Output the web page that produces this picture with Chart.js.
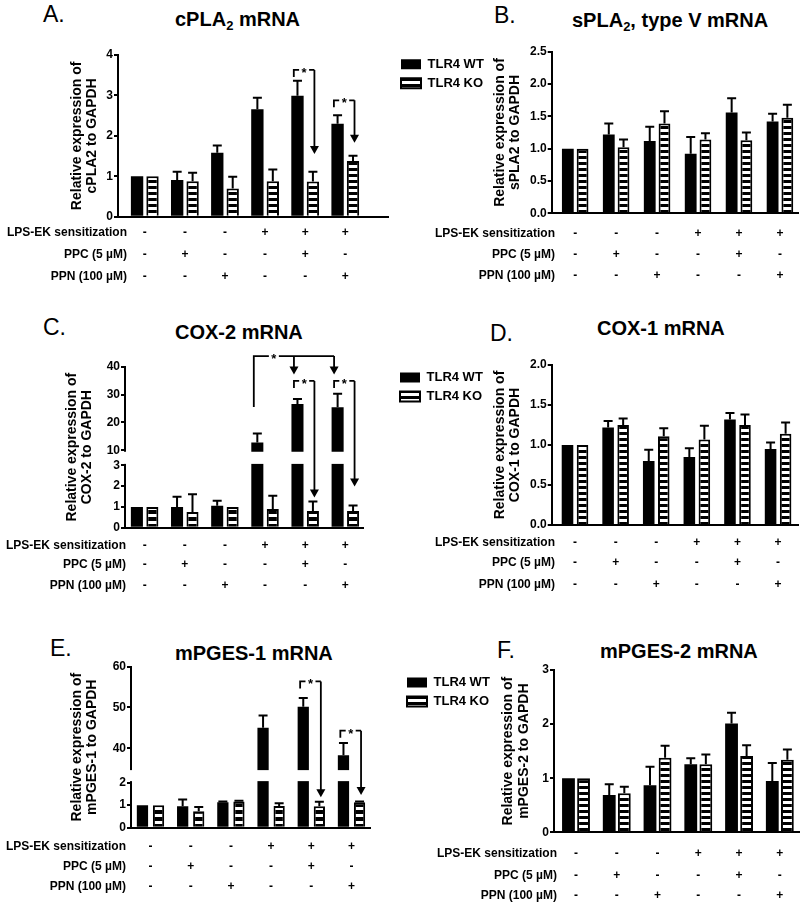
<!DOCTYPE html>
<html>
<head>
<meta charset="utf-8">
<script src="https://cdn.jsdelivr.net/npm/chart.js@4.4.1/dist/chart.umd.min.js"></script>
<style>
  html, body { margin: 0; padding: 0; background: #fff; }
  body { position: relative; width: 800px; height: 902px; overflow: hidden; font-family: "Liberation Sans", Arial, sans-serif; color: #000; }
  canvas { position: absolute; }
  .letter { position: absolute; font-size: 23px; line-height: 23px; white-space: nowrap; }
  .title { position: absolute; font-size: 20px; font-weight: bold; line-height: 20px; white-space: nowrap; }
  .title sub { font-size: 13px; line-height: 0; vertical-align: -4px; }
</style>
</head>
<body>
<div class="letter" style="left:43px;top:3px">A.</div>
<div class="title" style="left:175px;top:9px">cPLA<sub>2</sub> mRNA</div>
<div class="letter" style="left:494px;top:4px">B.</div>
<div class="title" style="left:572px;top:10px">sPLA<sub>2</sub>, type V mRNA</div>
<div class="letter" style="left:43px;top:316px">C.</div>
<div class="title" style="left:175px;top:322px">COX-2 mRNA</div>
<div class="letter" style="left:490px;top:322px">D.</div>
<div class="title" style="left:597px;top:318px">COX-1 mRNA</div>
<div class="letter" style="left:50px;top:637px">E.</div>
<div class="title" style="left:175px;top:643px">mPGES-1 mRNA</div>
<div class="letter" style="left:497px;top:639px">F.</div>
<div class="title" style="left:600px;top:641px">mPGES-2 mRNA</div>

<canvas id="chartA" width="400" height="300" style="left:0px;top:0px"></canvas>
<canvas id="chartB" width="405" height="300" style="left:395px;top:0px"></canvas>
<canvas id="chartC" width="400" height="300" style="left:0px;top:300px"></canvas>
<canvas id="chartD" width="406" height="300" style="left:394px;top:300px"></canvas>
<canvas id="chartE" width="400" height="302" style="left:0px;top:600px"></canvas>
<canvas id="chartF" width="399" height="302" style="left:401px;top:600px"></canvas>

<script>
var seriesNames = ['TLR4 WT', 'TLR4 KO'];
var groups = [0, 1, 2, 3, 4, 5];
var conditionLabels = ['LPS-EK sensitization', 'PPC (5 µM)', 'PPN (100 µM)'];
var lpsSigns = ['-', '-', '-', '+', '+', '+'];
var ppcSigns = ['-', '+', '-', '-', '+', '-'];
var ppnSigns = ['-', '-', '+', '-', '-', '+'];

// A. cPLA2
var cpla2Wt = [1.0, 0.91, 1.58, 2.66, 2.99, 2.30];
var cpla2WtErr = [0, 0.20, 0.18, 0.28, 0.37, 0.21];
var cpla2Ko = [1.0, 0.88, 0.70, 0.88, 0.87, 1.38];
var cpla2KoErr = [0, 0.21, 0.29, 0.29, 0.24, 0.13];
var cpla2Ticks = [0, 1, 2, 3, 4];
var cpla2Sig = [
  { group: 4, y: 3.63, arrows: [[4, 1, 1.55]] },
  { group: 5, y: 2.88, arrows: [[5, 1, 1.83]] }
];

// B. sPLA2 type V
var spla2Wt = [1.0, 1.22, 1.12, 0.92, 1.56, 1.42];
var spla2WtErr = [0, 0.17, 0.22, 0.26, 0.22, 0.12];
var spla2Ko = [1.0, 1.02, 1.39, 1.14, 1.13, 1.48];
var spla2KoErr = [0, 0.12, 0.19, 0.10, 0.12, 0.20];
var spla2Ticks = [0, 0.5, 1, 1.5, 2, 2.5];

// C. COX-2 (broken axis)
var cox2Wt = [1.0, 1.0, 1.06, 12.8, 26.6, 25.4];
var cox2WtErr = [0, 0.49, 0.24, 3.2, 1.8, 4.9];
var cox2Ko = [1.0, 0.75, 1.0, 0.9, 0.8, 0.8];
var cox2KoErr = [0, 0.86, 0, 0.64, 0.46, 0.27];
var cox2Ticks = [0, 1, 2, 3, 10, 20, 30, 40];
var cox2Sig = [
  { group: 3, y: 43.8, drop: 25.5, arrows: [[4, 0, 37.2], [5, 0, 37.2]] },
  { group: 4, y: 34.9, arrows: [[4, 1, 1.45]] },
  { group: 5, y: 34.9, arrows: [[5, 1, 1.98]] }
];

// D. COX-1
var cox1Wt = [1.0, 1.22, 0.80, 0.85, 1.32, 0.95];
var cox1WtErr = [0, 0.08, 0.14, 0.11, 0.08, 0.08];
var cox1Ko = [1.0, 1.25, 1.11, 1.07, 1.25, 1.14];
var cox1KoErr = [0, 0.08, 0.10, 0.17, 0.13, 0.14];
var cox1Ticks = [0, 0.5, 1, 1.5, 2];

// E. mPGES-1 (broken axis)
var mpges1Wt = [1.0, 0.95, 1.13, 45.0, 50.2, 38.3];
var mpges1WtErr = [0, 0.3, 0.03, 3.0, 2.1, 3.0];
var mpges1Ko = [1.0, 0.73, 1.16, 0.96, 0.95, 1.13];
var mpges1KoErr = [0, 0.19, 0.04, 0.12, 0.2, 0.03];
var mpges1Ticks = [0, 1, 2, 40, 50, 60];
var mpges1Sig = [
  { group: 4, y: 56.4, arrows: [[4, 1, 1.35]] },
  { group: 5, y: 44.3, arrows: [[5, 1, 1.45]] }
];

// F. mPGES-2
var mpges2Wt = [1.0, 0.69, 0.87, 1.26, 2.01, 0.95];
var mpges2WtErr = [0, 0.2, 0.34, 0.11, 0.2, 0.33];
var mpges2Ko = [1.0, 0.72, 1.38, 1.26, 1.41, 1.34];
var mpges2KoErr = [0, 0.12, 0.22, 0.18, 0.2, 0.19];
var mpges2Ticks = [0, 1, 2, 3];

var FONT = '"Liberation Sans", Arial, sans-serif';
Chart.defaults.font.family = FONT;
Chart.defaults.color = '#000';

// y scale with a gap between two linear segments
class BrokenScale extends Chart.LinearScale {
  getPixelForValue(value) {
    var b = this.options.brk;
    var h = this.bottom - this.top;
    var lowH = h * b.lowShare, gapH = h * b.gapShare, upH = h - lowH - gapH;
    if (value <= b.low) return this.bottom - (value - this.min) / (b.low - this.min) * lowH;
    if (value < b.high) return this.bottom - lowH - (value - b.low) / (b.high - b.low) * gapH;
    return this.bottom - lowH - gapH - (value - b.high) / (this.max - b.high) * upH;
  }
  getValueForPixel(pixel) {
    var b = this.options.brk;
    var h = this.bottom - this.top;
    var lowH = h * b.lowShare, gapH = h * b.gapShare, upH = h - lowH - gapH;
    var d = this.bottom - pixel;
    if (d <= lowH) return this.min + d / lowH * (b.low - this.min);
    if (d < lowH + gapH) return b.low + (d - lowH) / gapH * (b.high - b.low);
    return b.high + (d - lowH - gapH) / upH * (this.max - b.high);
  }
}
BrokenScale.id = 'broken';
BrokenScale.defaults = {};
Chart.register(BrokenScale);

function stripes(period) {
  var c = document.createElement('canvas');
  c.width = 4;
  c.height = period;
  var g = c.getContext('2d');
  g.fillStyle = '#fff';
  g.fillRect(0, 0, 4, period);
  g.fillStyle = '#000';
  g.fillRect(0, 0, 4, Math.round(period / 2));
  return g.createPattern(c, 'repeat');
}

function anchorX(chart, group, ds) {
  var bar = chart.getDatasetMeta(ds).data[group];
  return ds === 0 ? bar.x - bar.width / 2 + 2.5 : bar.x + 1.5;
}

// error bars, axis break, significance brackets and the treatment table
function makeExtras(errors, sig, layout) {
  return {
    id: 'panelExtras',
    afterDatasetsDraw: function(chart) {
      var ctx = chart.ctx;
      var area = chart.chartArea;
      var y = chart.scales.y;
      var x = chart.scales.x;
      ctx.save();

      if (layout.brk) {
        var yHi = y.getPixelForValue(layout.brk.high);
        var yLo = y.getPixelForValue(layout.brk.low);
        ctx.fillStyle = '#fff';
        ctx.fillRect(area.left - 3, yHi + 1.5, area.right - area.left + 3, yLo - yHi - 3);
      }

      ctx.strokeStyle = '#000';
      ctx.fillStyle = '#000';
      ctx.lineWidth = 2;
      errors.forEach(function(errs, d) {
        var meta = chart.getDatasetMeta(d);
        var vals = chart.data.datasets[d].data;
        meta.data.forEach(function(bar, i) {
          if (!errs[i]) return;
          var top = y.getPixelForValue(vals[i].y + errs[i]);
          ctx.beginPath();
          ctx.moveTo(bar.x, bar.y);
          ctx.lineTo(bar.x, top);
          ctx.moveTo(bar.x - 4.5, top);
          ctx.lineTo(bar.x + 4.5, top);
          ctx.stroke();
        });
      });

      ctx.lineWidth = 1.8;
      ctx.font = 'bold 13px ' + FONT;
      ctx.textAlign = 'center';
      ctx.textBaseline = 'alphabetic';
      (sig || []).forEach(function(b) {
        var x0 = anchorX(chart, b.group, 0);
        var yl = y.getPixelForValue(b.y);
        var ax = b.arrows.map(function(a) { return anchorX(chart, a[0], a[1]); });
        var xEnd = ax[ax.length - 1];
        var xs = (x0 + ax[0]) / 2;
        ctx.beginPath();
        ctx.moveTo(x0, b.drop !== undefined ? y.getPixelForValue(b.drop) : yl + 7);
        ctx.lineTo(x0, yl);
        ctx.lineTo(xs - 5, yl);
        ctx.moveTo(xs + 5, yl);
        ctx.lineTo(xEnd, yl);
        b.arrows.forEach(function(a, k) {
          var tip = y.getPixelForValue(a[2]);
          ctx.moveTo(ax[k], yl);
          ctx.lineTo(ax[k], tip - 7);
        });
        ctx.stroke();
        b.arrows.forEach(function(a, k) {
          var tip = y.getPixelForValue(a[2]);
          ctx.beginPath();
          ctx.moveTo(ax[k] - 4.5, tip - 8);
          ctx.lineTo(ax[k] + 4.5, tip - 8);
          ctx.lineTo(ax[k], tip);
          ctx.closePath();
          ctx.fill();
        });
        ctx.fillText('*', xs, yl + 7);
      });

      ctx.font = 'bold 12px ' + FONT;
      ctx.textBaseline = 'middle';
      [lpsSigns, ppcSigns, ppnSigns].forEach(function(signs, r) {
        var ry = area.bottom + layout.rows[r];
        ctx.textAlign = 'right';
        ctx.fillText(conditionLabels[r], layout.labelRight, ry);
        ctx.textAlign = 'center';
        signs.forEach(function(s, i) {
          ctx.fillText(s, x.getPixelForValue(groups[i]), ry);
        });
      });
      ctx.restore();
    }
  };
}

function buildPanel(id, wt, wtErr, ko, koErr, ticks, yTitle, sig, layout) {
  var ctx = document.getElementById(id).getContext('2d');
  var yScale = {
    type: layout.brk ? 'broken' : 'linear',
    min: ticks[0],
    max: ticks[ticks.length - 1],
    brk: layout.brk,
    afterBuildTicks: function(s) { s.ticks = ticks.map(function(v) { return { value: v }; }); },
    afterFit: function(s) { s.width = layout.axisWidth; },
    ticks: {
      color: '#000',
      padding: 1,
      font: { size: 12, weight: 'bold' },
      callback: function(v) { return layout.decimals ? v.toFixed(1) : String(v); }
    },
    grid: { drawOnChartArea: false, drawTicks: true, tickLength: 4, color: '#000', lineWidth: 2 },
    border: { color: '#000', width: 2 },
    title: {
      display: true,
      text: yTitle,
      color: '#000',
      font: { size: 14, weight: 'bold', lineHeight: 1.1 },
      padding: { top: layout.titlePad, bottom: 0 }
    }
  };
  return new Chart(ctx, {
    type: 'bar',
    data: {
      datasets: [{
        label: seriesNames[0],
        data: wt.map(function(v, i) { return { x: groups[i], y: v }; }),
        backgroundColor: '#000',
        borderColor: '#000',
        borderWidth: 0,
        categoryPercentage: layout.cp,
        barPercentage: layout.bp
      }, {
        label: seriesNames[1],
        data: ko.map(function(v, i) { return { x: groups[i], y: v }; }),
        backgroundColor: stripes(layout.stripe),
        borderColor: '#000',
        borderWidth: 2,
        categoryPercentage: layout.cp,
        barPercentage: layout.bp
      }]
    },
    options: {
      responsive: false,
      animation: false,
      events: [],
      layout: { padding: layout.padding },
      scales: {
        x: {
          type: 'linear',
          min: layout.xMin,
          max: layout.xMax,
          offset: false,
          afterBuildTicks: function(s) { s.ticks = groups.map(function(v) { return { value: v }; }); },
          afterFit: function(s) { s.height = 0; },
          ticks: { display: false },
          grid: { display: false },
          border: { color: '#000', width: 2 }
        },
        y: yScale
      },
      plugins: {
        tooltip: { enabled: false },
        legend: {
          display: layout.legend,
          position: 'left',
          align: 'start',
          fullSize: false,
          maxWidth: 92,
          labels: { boxWidth: 20, boxHeight: 10, padding: 6, color: '#000', font: { size: 13, weight: 'bold' } }
        }
      }
    },
    plugins: [makeExtras([wtErr, koErr], sig, layout)]
  });
}

buildPanel('chartA', cpla2Wt, cpla2WtErr, cpla2Ko, cpla2KoErr, cpla2Ticks,
  ['Relative expression of', 'cPLA2 to GAPDH'], cpla2Sig, {
    xMin: -0.668, xMax: 6.065, cp: 0.77, bp: 0.8, axisWidth: 58, titlePad: 9,
    padding: { left: 60, top: 55, right: 12, bottom: 83.3 },
    rows: [16, 38, 60], labelRight: 127, stripe: 6, legend: false
  });

buildPanel('chartB', spla2Wt, spla2WtErr, spla2Ko, spla2KoErr, spla2Ticks,
  ['Relative expression of', 'sPLA2 to GAPDH'], null, {
    xMin: -0.574, xMax: 5.44, cp: 0.72, bp: 0.8, axisWidth: 64.7, titlePad: 5.5, decimals: true,
    padding: { left: 0, top: 51.7, right: 2, bottom: 86.7 },
    rows: [20, 41, 62], labelRight: 160, stripe: 6, legend: true
  });

buildPanel('chartC', cox2Wt, cox2WtErr, cox2Ko, cox2KoErr, cox2Ticks,
  ['Relative expression of', 'COX-2 to GAPDH'], cox2Sig, {
    xMin: -0.489, xMax: 5.44, cp: 0.77, bp: 0.78, axisWidth: 65, titlePad: 4,
    brk: { low: 3, high: 10, lowShare: 0.387, gapShare: 0.094 },
    padding: { left: 60, top: 66.7, right: 37, bottom: 72.3 },
    rows: [18, 37, 58], labelRight: 126, stripe: 7, legend: false
  });

buildPanel('chartD', cox1Wt, cox1WtErr, cox1Ko, cox1KoErr, cox1Ticks,
  ['Relative expression of', 'COX-1 to GAPDH'], null, {
    xMin: -0.574, xMax: 5.49, cp: 0.74, bp: 0.77, axisWidth: 65.7, titlePad: 6.3, decimals: true,
    padding: { left: 0, top: 65, right: 2, bottom: 75 },
    rows: [18, 38, 60], labelRight: 161, stripe: 6, legend: true
  });

buildPanel('chartE', mpges1Wt, mpges1WtErr, mpges1Ko, mpges1KoErr, mpges1Ticks,
  ['Relative expression of', 'mPGES-1 to GAPDH'], mpges1Sig, {
    xMin: -0.485, xMax: 5.46, cp: 0.8, bp: 0.7, axisWidth: 71, titlePad: 9,
    brk: { low: 2, high: 35, lowShare: 0.28, gapShare: 0.087 },
    padding: { left: 60, top: 66.7, right: 30, bottom: 74.3 },
    rows: [19, 39, 59], labelRight: 126, stripe: 7, legend: false
  });

buildPanel('chartF', mpges2Wt, mpges2WtErr, mpges2Ko, mpges2KoErr, mpges2Ticks,
  ['Relative expression of', 'mPGES-2 to GAPDH'], null, {
    xMin: -0.54, xMax: 5.47, cp: 0.74, bp: 0.85, axisWidth: 61, titlePad: 7.6,
    padding: { left: 0, top: 70, right: 1, bottom: 69.7 },
    rows: [21, 43, 63], labelRight: 156, stripe: 6, legend: true
  });
</script>
</body>
</html>
